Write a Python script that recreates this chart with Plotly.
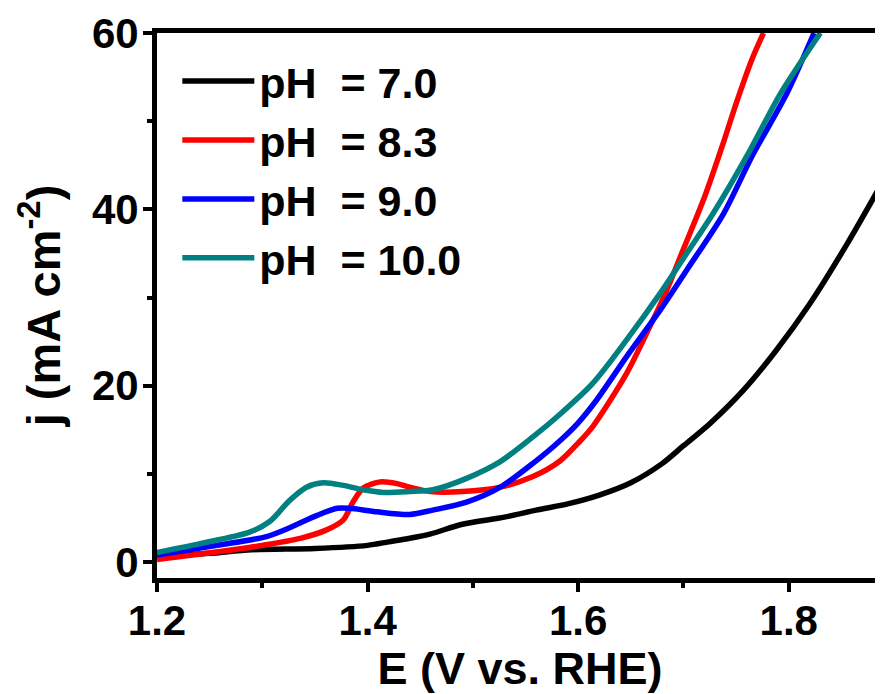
import plotly.graph_objects as go

# ---- data ----
E_ph70 = [1.20, 1.25, 1.29, 1.35, 1.40, 1.42, 1.44, 1.46, 1.49, 1.53, 1.56, 1.59, 1.62,
          1.65, 1.68, 1.70, 1.725, 1.757, 1.788, 1.82, 1.855, 1.89]
j_ph70 = [0.6, 1.0, 1.4, 1.55, 1.9, 2.3, 2.7, 3.2, 4.3, 5.1, 5.9, 6.6, 7.6,
          9.0, 11.2, 13.2, 15.7, 19.5, 24.0, 29.3, 36.0, 43.3]

E_ph83 = [1.20, 1.26, 1.30, 1.336, 1.36, 1.377, 1.386, 1.396, 1.412, 1.428, 1.44, 1.46,
          1.49, 1.526, 1.557, 1.583, 1.60, 1.614, 1.646, 1.668, 1.684, 1.70, 1.72,
          1.738, 1.75, 1.765, 1.776]
j_ph83 = [0.3, 1.2, 1.9, 2.7, 3.6, 4.8, 6.8, 8.4, 9.1, 8.9, 8.5, 8.0,
          8.0, 8.5, 9.7, 11.5, 13.5, 15.4, 21.4, 26.7, 30.8, 35.5, 41.4,
          47.6, 52.0, 57.0, 60.0]

E_ph90 = [1.20, 1.257, 1.304, 1.326, 1.352, 1.371, 1.383, 1.409, 1.44, 1.462, 1.494,
          1.526, 1.557, 1.583, 1.60, 1.617, 1.646, 1.678, 1.703, 1.738, 1.765, 1.798, 1.824]
j_ph90 = [0.8, 1.9, 2.9, 3.9, 5.3, 6.1, 6.1, 5.7, 5.4, 5.9, 6.8,
          8.5, 11.2, 13.8, 15.8, 18.3, 23.3, 28.6, 33.1, 39.5, 46.0, 53.1, 60.0]

E_ph100 = [1.20, 1.241, 1.288, 1.307, 1.326, 1.342, 1.358, 1.377, 1.396, 1.415, 1.44,
           1.462, 1.494, 1.526, 1.557, 1.583, 1.614, 1.646, 1.678, 1.703, 1.728, 1.76,
           1.792, 1.83]
j_ph100 = [1.1, 2.1, 3.4, 4.6, 7.0, 8.5, 9.0, 8.7, 8.2, 7.9, 8.0,
           8.2, 9.5, 11.4, 14.2, 16.8, 20.3, 25.2, 30.5, 35.0, 39.5, 46.0,
           53.1, 60.0]

series_names = ["pH\u00a0 = 7.0", "pH\u00a0 = 8.3", "pH\u00a0 = 9.0", "pH\u00a0 = 10.0"]
series_colors = ["#000000", "#FF0000", "#0000FF", "#008080"]
series_E = [E_ph70, E_ph83, E_ph90, E_ph100]
series_j = [j_ph70, j_ph83, j_ph90, j_ph100]

x_ticks = [1.2, 1.4, 1.6, 1.8]
y_ticks = [0, 20, 40, 60]

FONT = "Liberation Sans, Arial, sans-serif"

fig = go.Figure()
for name, col, ex, jy in zip(series_names, series_colors, series_E, series_j):
    fig.add_trace(go.Scatter(
        x=ex, y=jy, mode="lines", name=name,
        line=dict(color=col, width=5.5, shape="spline", smoothing=0.8),
    ))

axis_common = dict(
    showline=True, linecolor="black", linewidth=5,
    ticks="outside", ticklen=9, tickwidth=4, tickcolor="black",
    showgrid=False, zeroline=False, automargin=False,
    tickfont=dict(family=FONT, size=42, color="black", weight="bold"),
)

# page body has an 8px margin: the figure is sized/offset to compensate
fig.update_layout(
    width=875, height=686,
    margin=dict(l=149, r=0, t=25, b=116, autoexpand=False),
    paper_bgcolor="white", plot_bgcolor="white",
    showlegend=True,
    legend=dict(
        x=0.028, y=0.975, xanchor="left", yanchor="top",
        bgcolor="rgba(0,0,0,0)",
        font=dict(family=FONT, size=43, color="black", weight="bold"),
        itemwidth=72, tracegroupgap=0,
    ),
    xaxis=dict(
        range=[1.2, 1.8895], tickvals=x_ticks, ticktext=[f"{v:.1f}" for v in x_ticks],
        mirror=True, ticklabelposition="outside", ticklabelstandoff=-7,
        minor=dict(dtick=0.1, tick0=1.2, ticks="outside", ticklen=5, tickwidth=4, tickcolor="black"),
        title=dict(text="E (V vs. RHE)", standoff=0,
                   font=dict(family=FONT, size=45, color="black", weight="bold")),
        **axis_common,
    ),
    yaxis=dict(
        range=[-1.8, 60], tickvals=y_ticks, ticktext=[str(v) for v in y_ticks],
        ticklabelposition="outside", ticklabelstandoff=-4,
        minor=dict(dtick=10, tick0=0, ticks="outside", ticklen=5, tickwidth=4, tickcolor="black"),
        title=dict(text="j (mA cm<sup>-2</sup>)", standoff=18,
                   font=dict(family=FONT, size=47, color="black", weight="bold")),
        **axis_common,
    ),
)

fig.write_html("out.html")
